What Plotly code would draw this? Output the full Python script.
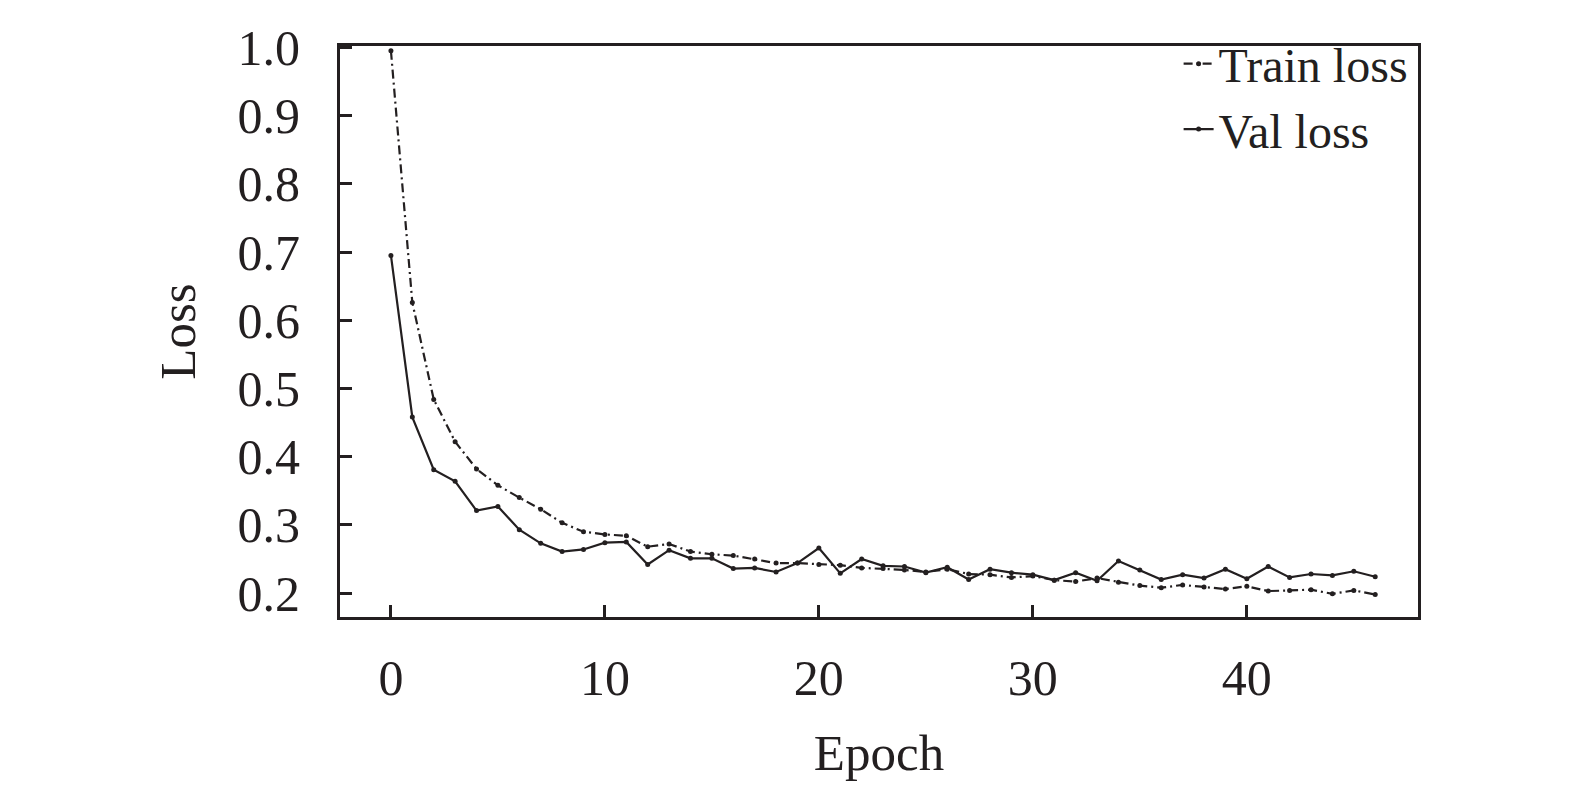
import plotly.graph_objects as go

epochs = list(range(47))

train_loss = [0.995, 0.626, 0.484, 0.422, 0.382, 0.358, 0.340, 0.323, 0.303, 0.290,
              0.286, 0.284, 0.268, 0.272, 0.261, 0.257, 0.255, 0.250, 0.244, 0.244,
              0.242, 0.241, 0.237, 0.236, 0.234, 0.231, 0.235, 0.228, 0.227, 0.223,
              0.225, 0.219, 0.217, 0.222, 0.216, 0.211, 0.208, 0.212, 0.209, 0.206,
              0.210, 0.203, 0.204, 0.205, 0.199, 0.204, 0.198]

val_loss = [0.695, 0.458, 0.381, 0.364, 0.321, 0.327, 0.293, 0.273, 0.261, 0.264,
            0.274, 0.275, 0.242, 0.263, 0.251, 0.251, 0.236, 0.237, 0.231, 0.244,
            0.266, 0.229, 0.250, 0.240, 0.239, 0.230, 0.238, 0.220, 0.235, 0.230,
            0.227, 0.219, 0.230, 0.218, 0.247, 0.234, 0.220, 0.227, 0.222, 0.235,
            0.221, 0.239, 0.223, 0.228, 0.226, 0.232, 0.224]

ink = '#231f20'
font_name = 'Liberation Serif'

train = go.Scatter(x=epochs, y=train_loss,
                   mode='lines+markers',
                   name='Train loss',
                   line=dict(color=ink, width=2.2, dash='9px,4px,2px,4px'),
                   marker=dict(color=ink, size=5))
val = go.Scatter(x=epochs, y=val_loss,
                 mode='lines+markers',
                 name='Val loss',
                 line=dict(color=ink, width=2.2),
                 marker=dict(color=ink, size=5))

axis_common = dict(showline=True, linecolor=ink, linewidth=3, mirror=True,
                   showgrid=False, zeroline=False,
                   ticks='inside', ticklen=12, tickwidth=3, tickcolor=ink,
                   tickfont=dict(family=font_name, size=50, color=ink))

layout = go.Layout(
    width=1575, height=797,
    font=dict(family=font_name, size=50, color=ink),
    paper_bgcolor='white', plot_bgcolor='white',
    margin=dict(l=332, r=165, t=31, b=188),
    xaxis=dict(axis_common, range=[-2.38, 48.0], tickvals=[0, 10, 20, 30, 40],
               ticklabelstandoff=15,
               title=dict(text='Epoch', standoff=30,
                          font=dict(family=font_name, size=51, color=ink))),
    yaxis=dict(axis_common, range=[0.165, 1.002],
               tickvals=[0.2, 0.3, 0.4, 0.5, 0.6, 0.7, 0.8, 0.9, 1.0],
               tickformat='.1f', ticklabelstandoff=27,
               title=dict(text='Loss', standoff=26,
                          font=dict(family=font_name, size=51, color=ink))),
    legend=dict(x=0.995, y=1.035, xanchor='right', yanchor='top',
                bgcolor='rgba(0,0,0,0)',
                font=dict(family=font_name, size=48, color=ink),
                itemwidth=30, tracegroupgap=0),
    showlegend=True,
)

fig = go.Figure(data=[train, val], layout=layout)
fig.write_html("out.html")
